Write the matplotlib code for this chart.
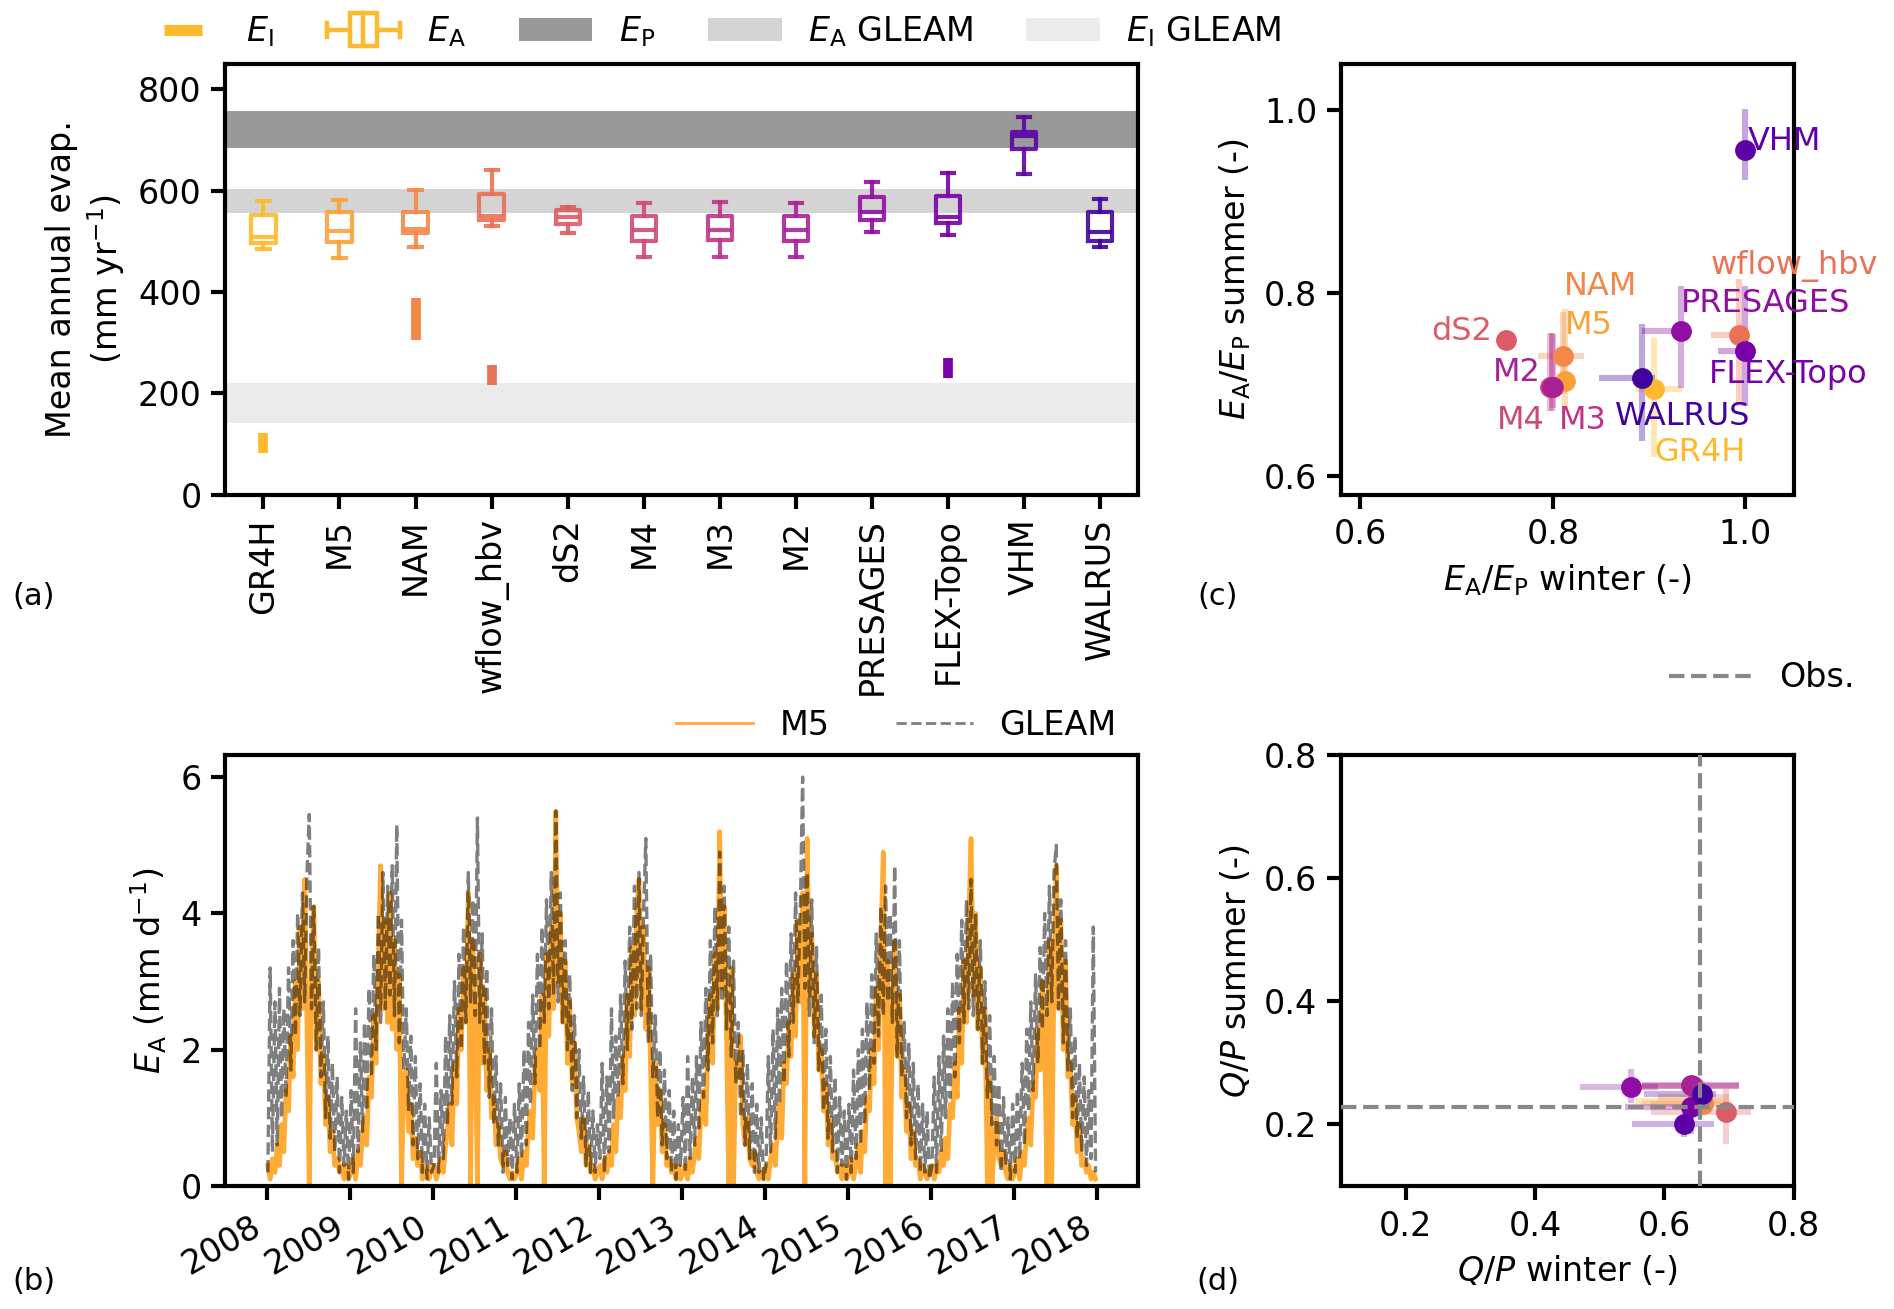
import datetime as dt
import numpy as np
import matplotlib
matplotlib.use('Agg')
import matplotlib.pyplot as plt
import matplotlib.dates as mdates
from matplotlib.lines import Line2D
from matplotlib.patches import Patch, Rectangle
from matplotlib.legend_handler import HandlerBase

plt.rcParams['font.size'] = 12

# ---- models (same order everywhere)
models = ['GR4H', 'M5', 'NAM', 'wflow_hbv', 'dS2', 'M4', 'M3', 'M2',
          'PRESAGES', 'FLEX-Topo', 'VHM', 'WALRUS']

# ---- (a) mean annual evaporation, boxplot stats (mm/yr)
ea_whislo = [485, 467, 490, 530, 516, 469, 470, 469, 518, 512, 634, 490]
ea_q1 = [497, 498, 517, 543, 534, 500, 502, 501, 542, 536, 682, 500]
ea_med = [508, 520, 524, 551, 549, 522, 522, 522, 558, 548, 708, 518]
ea_q3 = [553, 559, 558, 594, 563, 550, 551, 550, 588, 590, 716, 559]
ea_whishi = [579, 582, 601, 642, 568, 576, 578, 575, 617, 635, 745, 584]

# interception range, only for models that have it
ei_models = ['GR4H', 'NAM', 'wflow_hbv', 'FLEX-Topo']
ei_low = [83, 305, 216, 230]
ei_high = [122, 388, 256, 270]

ep_band = (685, 758)
ea_gleam_band = (556, 603)
ei_gleam_band = (141, 220)

# ---- (b) daily E_A, read at three days per month (mm/d)
years = list(range(2008, 2018))
days_in_month = [5, 15, 25]
m5_years = [
    [0.3, 0.1, 0.4, 0.2, 0.6, 0.3, 0.9, 0.5, 1.4, 1.1, 2.2, 1.6, 3.0, 2.0, 3.8, 2.6, 4.5, 2.4,
     0.0, 3.2, 4.1, 2.0, 3.0, 1.5, 1.9, 0.9, 1.3, 0.5, 0.8, 0.3, 0.4, 0.2, 0.3, 0.1, 0.3, 0.1],
    [0.2, 0.4, 0.1, 0.5, 0.3, 0.8, 1.0, 0.6, 1.6, 1.3, 2.5, 1.8, 3.3, 4.7, 2.6, 3.9, 2.4, 4.3,
     2.3, 3.6, 2.0, 3.1, 0.0, 1.6, 1.7, 0.8, 1.2, 0.4, 0.7, 0.3, 0.5, 0.1, 0.3, 0.2, 0.1, 0.3],
    [0.3, 0.1, 0.2, 0.4, 0.2, 0.6, 0.8, 1.2, 0.6, 1.8, 1.2, 2.6, 2.0, 3.2, 2.4, 4.3, 0.0, 3.6,
     2.2, 0.0, 3.4, 1.8, 2.9, 1.4, 2.0, 1.0, 1.3, 0.6, 0.9, 0.4, 0.3, 0.5, 0.2, 0.1, 0.2, 0.1],
    [0.2, 0.4, 0.1, 0.5, 0.3, 0.9, 1.1, 0.7, 1.7, 2.0, 1.4, 2.8, 0.0, 3.4, 2.2, 3.8, 2.6, 5.5,
     3.0, 4.0, 2.4, 3.3, 1.8, 2.7, 1.5, 2.1, 1.0, 0.8, 0.5, 1.0, 0.3, 0.6, 0.2, 0.3, 0.1, 0.2],
    [0.3, 0.1, 0.4, 0.2, 0.5, 0.3, 0.9, 0.5, 1.3, 1.0, 1.9, 1.4, 2.8, 1.9, 3.5, 2.5, 4.0, 4.5,
     2.6, 3.8, 2.3, 3.2, 1.7, 0.0, 1.8, 0.9, 1.4, 0.5, 0.9, 0.3, 0.4, 0.2, 0.3, 0.1, 0.3, 0.1],
    [0.2, 0.3, 0.1, 0.4, 0.2, 0.5, 0.7, 0.4, 1.1, 1.4, 0.9, 2.2, 2.8, 1.8, 3.4, 2.6, 5.2, 2.9,
     4.1, 2.2, 0.0, 3.2, 0.0, 1.8, 1.6, 2.2, 0.9, 0.6, 1.0, 0.4, 0.3, 0.5, 0.2, 0.1, 0.2, 0.1],
    [0.3, 0.1, 0.4, 0.6, 0.3, 0.9, 1.2, 0.7, 1.8, 1.5, 2.4, 1.9, 3.1, 2.2, 3.9, 2.7, 4.3, 0.0,
     5.1, 2.8, 3.7, 2.2, 3.1, 1.7, 2.0, 1.1, 1.5, 0.6, 1.0, 0.4, 0.5, 0.2, 0.3, 0.1, 0.3, 0.1],
    [0.2, 0.4, 0.1, 0.3, 0.6, 0.2, 0.8, 0.5, 1.3, 1.1, 2.0, 1.5, 2.9, 2.0, 3.6, 4.9, 0.0, 3.3,
     0.0, 2.4, 3.6, 1.9, 2.8, 1.3, 1.7, 0.8, 1.2, 0.4, 0.8, 0.3, 0.4, 0.1, 0.3, 0.2, 0.1, 0.2],
    [0.3, 0.1, 0.3, 0.2, 0.5, 0.3, 0.7, 0.4, 1.2, 1.0, 1.8, 1.3, 2.6, 1.8, 3.3, 2.4, 3.9, 5.1,
     2.8, 4.0, 2.3, 3.2, 1.8, 2.6, 0.0, 1.6, 0.0, 0.6, 1.0, 0.4, 0.3, 0.5, 0.2, 0.1, 0.3, 0.1],
    [0.2, 0.4, 0.1, 0.5, 0.3, 0.8, 1.0, 0.6, 1.5, 1.3, 2.3, 1.7, 3.0, 2.1, 0.0, 3.6, 0.0, 3.1,
     4.7, 2.6, 3.9, 2.0, 3.3, 1.6, 1.8, 0.9, 1.3, 0.5, 0.9, 0.3, 0.4, 0.2, 0.3, 0.1, 0.2, 0.1],
]
gleam_years = [
    [0.2, 3.2, 0.5, 2.7, 0.6, 2.9, 1.0, 2.6, 1.3, 3.2, 1.7, 3.6, 2.2, 4.0, 2.5, 4.3, 2.7, 4.6,
     5.45, 2.6, 4.1, 2.0, 3.5, 1.6, 2.7, 1.0, 2.2, 0.7, 1.8, 0.5, 1.6, 0.2, 1.3, 0.3, 1.1, 0.1],
    [1.4, 0.2, 2.6, 0.5, 2.1, 0.8, 2.4, 1.1, 2.9, 1.6, 3.4, 2.0, 4.0, 2.4, 4.6, 2.6, 4.4, 2.8,
     4.7, 2.5, 5.3, 2.1, 3.9, 1.7, 2.6, 1.1, 2.2, 0.6, 1.9, 0.4, 1.5, 0.2, 1.2, 0.1, 1.0, 0.2],
    [0.3, 1.8, 0.2, 1.4, 0.4, 2.2, 0.9, 2.5, 1.2, 3.0, 1.6, 3.4, 2.0, 3.8, 2.4, 4.6, 2.7, 4.2,
     2.5, 5.4, 2.4, 3.7, 1.8, 3.2, 1.3, 2.6, 0.9, 1.9, 0.6, 1.5, 0.2, 1.3, 0.3, 1.0, 0.1, 1.2],
    [0.2, 1.5, 0.4, 2.0, 0.6, 2.4, 1.2, 2.8, 1.5, 3.4, 2.0, 3.8, 2.4, 4.2, 2.6, 4.6, 2.8, 5.5,
     2.7, 4.3, 2.4, 3.6, 2.0, 3.1, 1.4, 2.5, 1.0, 2.0, 0.7, 1.6, 0.3, 1.4, 0.2, 1.1, 0.2, 0.9],
    [0.4, 1.8, 0.2, 1.6, 0.5, 2.6, 1.0, 2.2, 1.3, 2.8, 1.5, 3.3, 2.0, 3.8, 2.3, 4.4, 2.6, 4.6,
     2.5, 4.0, 5.1, 2.1, 3.4, 1.6, 2.5, 1.0, 2.0, 0.6, 1.7, 0.4, 1.4, 0.2, 1.1, 0.1, 0.9, 0.3],
    [1.3, 0.2, 1.9, 0.4, 1.6, 0.6, 1.9, 0.8, 2.4, 1.3, 2.9, 1.7, 3.6, 2.1, 4.1, 2.5, 4.9, 2.7,
     4.4, 2.3, 3.8, 1.9, 3.3, 1.5, 2.4, 1.0, 2.0, 0.6, 1.8, 0.4, 1.5, 0.2, 1.2, 0.2, 1.0, 0.1],
    [0.3, 1.9, 0.5, 2.3, 0.7, 2.6, 1.2, 2.9, 1.5, 3.3, 1.9, 3.7, 2.4, 4.3, 2.7, 4.1, 6.0, 2.9,
     4.6, 2.5, 4.2, 2.1, 3.5, 1.7, 2.8, 1.1, 2.3, 0.7, 1.9, 0.5, 1.6, 0.2, 1.3, 0.3, 1.1, 0.1],
    [1.2, 0.2, 1.7, 0.4, 2.0, 0.6, 2.3, 0.9, 2.7, 1.4, 3.1, 1.8, 3.7, 2.2, 4.1, 2.5, 4.4, 2.7,
     4.0, 2.4, 4.7, 1.9, 3.6, 1.6, 2.4, 1.0, 2.1, 0.6, 1.8, 0.4, 1.5, 0.2, 1.2, 0.2, 1.1, 0.1],
    [0.3, 1.6, 0.2, 1.9, 0.5, 2.2, 1.0, 2.6, 1.3, 3.0, 1.6, 3.4, 2.1, 3.9, 2.4, 4.2, 2.6, 4.5,
     2.5, 4.0, 2.3, 3.6, 1.8, 3.0, 1.3, 2.5, 0.9, 1.9, 0.6, 1.5, 0.2, 1.3, 0.3, 1.0, 0.1, 1.2],
    [0.2, 1.4, 0.4, 1.8, 0.6, 2.3, 1.1, 2.7, 1.4, 3.1, 1.8, 3.5, 2.3, 4.0, 2.5, 4.4, 2.7, 4.6,
     5.0, 2.6, 4.2, 2.1, 3.6, 1.7, 2.6, 1.0, 2.2, 0.7, 1.8, 0.5, 1.6, 0.3, 1.4, 0.4, 3.8, 0.2],
]

# ---- (c) E_A/E_P winter vs summer, point and parameter range
c_x = [0.905, 0.813, 0.811, 0.993, 0.751, 0.797, 0.800, 0.799, 0.933, 1.000, 1.000, 0.893]
c_y = [0.696, 0.704, 0.732, 0.754, 0.749, 0.698, 0.698, 0.698, 0.759, 0.737, 0.956, 0.708]
c_xlo = [0.886, 0.800, 0.785, 0.964, 0.751, 0.790, 0.792, 0.792, 0.893, 0.971, 1.000, 0.848]
c_xhi = [0.934, 0.820, 0.832, 1.002, 0.751, 0.802, 0.805, 0.805, 0.935, 1.000, 1.000, 0.906]
c_ylo = [0.621, 0.673, 0.690, 0.677, 0.749, 0.672, 0.675, 0.672, 0.697, 0.677, 0.924, 0.639]
c_yhi = [0.751, 0.783, 0.780, 0.816, 0.749, 0.757, 0.755, 0.757, 0.808, 0.808, 1.001, 0.766]

# ---- (d) Q/P winter vs summer
d_x = [0.655, 0.658, 0.660, 0.658, 0.695, 0.645, 0.645, 0.642, 0.548, 0.641, 0.631, 0.658]
d_y = [0.238, 0.235, 0.233, 0.245, 0.221, 0.262, 0.262, 0.264, 0.261, 0.229, 0.200, 0.250]
d_xlo = [0.555, 0.565, 0.580, 0.590, 0.580, 0.565, 0.565, 0.565, 0.470, 0.540, 0.550, 0.568]
d_xhi = [0.690, 0.700, 0.705, 0.700, 0.734, 0.715, 0.715, 0.715, 0.590, 0.660, 0.677, 0.680]
d_ylo = [0.225, 0.220, 0.215, 0.220, 0.169, 0.250, 0.250, 0.250, 0.235, 0.185, 0.180, 0.235]
d_yhi = [0.250, 0.250, 0.250, 0.270, 0.258, 0.275, 0.275, 0.275, 0.290, 0.252, 0.210, 0.265]
obs_winter = 0.656
obs_summer = 0.229

# ---- label offsets in panel (c), points
label_pos = {
    'GR4H': ((0, -23), 'left'), 'M5': ((0, 20), 'left'), 'NAM': ((0, 25), 'left'),
    'wflow_hbv': ((-10, 25), 'left'), 'dS2': ((-5, 3), 'right'), 'M4': ((-2, -12), 'right'),
    'M3': ((2, -12), 'left'), 'M2': ((-4, 5), 'right'), 'PRESAGES': ((0, 10), 'left'),
    'FLEX-Topo': ((-13, -8.5), 'left'), 'VHM': ((1, 3), 'left'), 'WALRUS': ((-10, -14), 'left'),
}

cmap = plt.get_cmap('plasma')
colors = [cmap(v) for v in np.linspace(0.85, 0.1, len(models))]
col = dict(zip(models, colors))


class BoxIcon(HandlerBase):
    # small horizontal boxplot for the legend
    def create_artists(self, legend, orig_handle, xdescent, ydescent,
                       width, height, fontsize, trans):
        c = orig_handle.get_color()
        x0, y0 = -xdescent, -ydescent
        cy = y0 + height / 2
        lw = 1.6
        arts = [
            Line2D([x0, x0 + width], [cy, cy], color=c, lw=lw),
            Line2D([x0, x0], [cy - height * 0.3, cy + height * 0.3], color=c, lw=lw),
            Line2D([x0 + width] * 2, [cy - height * 0.3, cy + height * 0.3], color=c, lw=lw),
            Rectangle((x0 + width * 0.32, y0 - height * 0.2), width * 0.36, height * 1.4,
                      fc='white', ec=c, lw=lw),
            Line2D([x0 + width * 0.5] * 2, [y0 - height * 0.2, y0 + height * 1.2], color=c, lw=lw),
        ]
        for a in arts:
            a.set_transform(trans)
        return arts


def style_axes(ax):
    for s in ax.spines.values():
        s.set_linewidth(1.5)
    ax.tick_params(width=1.5, length=5)


fig = plt.figure(figsize=(9.47, 6.545), dpi=200)
ax_a = fig.add_axes([0.119, 0.622, 0.482, 0.329])
ax_b = fig.add_axes([0.119, 0.094, 0.482, 0.329])
ax_c = fig.add_axes([0.708, 0.622, 0.239, 0.329])
ax_d = fig.add_axes([0.708, 0.094, 0.239, 0.329])

# ================= (a)
ax_a.axhspan(*ep_band, color='#999999', lw=0, zorder=0)
ax_a.axhspan(*ea_gleam_band, color='#d4d4d4', lw=0, zorder=0)
ax_a.axhspan(*ei_gleam_band, color='#ebebeb', lw=0, zorder=0)
for i, m in enumerate(models):
    st = dict(med=ea_med[i], q1=ea_q1[i], q3=ea_q3[i], whislo=ea_whislo[i],
              whishi=ea_whishi[i], fliers=[], label=m)
    c = col[m]
    lp = dict(color=c, lw=1.5, alpha=0.9)
    ax_a.bxp([st], positions=[i + 1], widths=0.32, showfliers=False,
             boxprops=lp, whiskerprops=lp, capprops=lp, medianprops=lp,
             manage_ticks=False)
ei_pos = [models.index(m) + 1 for m in ei_models]
ax_a.vlines(ei_pos, ei_low, ei_high, colors=[col[m] for m in ei_models], lw=3.5, zorder=3)
ax_a.set_xlim(0.5, 12.5)
ax_a.set_ylim(0, 850)
ax_a.set_xticks(range(1, len(models) + 1))
ax_a.set_xticklabels(models, rotation=90)
ax_a.set_yticks([0, 200, 400, 600, 800])
ax_a.set_ylabel('Mean annual evap.\n(mm yr$^{-1}$)')
style_axes(ax_a)

h_ei = Line2D([], [], color=col['GR4H'], lw=0, marker='_', ms=14, mew=4)
h_ea = Line2D([], [], color=col['GR4H'])
h_ep = Patch(facecolor='#999999')
h_eag = Patch(facecolor='#d4d4d4')
h_eig = Patch(facecolor='#ebebeb')
ax_a.legend([h_ei, h_ea, h_ep, h_eag, h_eig],
            [r'$E_\mathrm{I}$', r'$E_\mathrm{A}$', r'$E_\mathrm{P}$',
             r'$E_\mathrm{A}$ GLEAM', r'$E_\mathrm{I}$ GLEAM'],
            handler_map={h_ea: BoxIcon()}, ncol=5, frameon=False,
            loc='center', bbox_to_anchor=(0.535, 1.075), handlelength=2.2,
            columnspacing=1.6, handletextpad=0.8)

# ================= (b)
dates = [dt.date(y, mo, d) for y in years for mo in range(1, 13) for d in days_in_month]
m5_series = [v for yr in m5_years for v in yr]
gleam_series = [v for yr in gleam_years for v in yr]
ax_b.plot(dates, m5_series, color='#ffa21f', lw=1.7, alpha=0.9, label='M5')
ax_b.plot(dates, gleam_series, color='k', alpha=0.5, lw=1.2, ls='--', label='GLEAM')
ax_b.set_xlim(dt.date(2007, 7, 2), dt.date(2018, 7, 1))
ax_b.set_ylim(0, 6.32)
ax_b.xaxis.set_major_locator(mdates.YearLocator())
ax_b.xaxis.set_major_formatter(mdates.DateFormatter('%Y'))
plt.setp(ax_b.get_xticklabels(), rotation=30, ha='right')
ax_b.set_ylabel(r'$E_\mathrm{A}$ (mm d$^{-1}$)')
style_axes(ax_b)
leg_b = ax_b.legend(ncol=2, frameon=False, loc='center', bbox_to_anchor=(0.735, 1.07),
                    handlelength=2.3, columnspacing=2.0)
for ln in leg_b.get_lines():
    ln.set_linewidth(1.0)

# ================= (c)
for i, m in enumerate(models):
    c = col[m]
    ax_c.errorbar(c_x[i], c_y[i],
                  xerr=[[c_x[i] - c_xlo[i]], [c_xhi[i] - c_x[i]]],
                  yerr=[[c_y[i] - c_ylo[i]], [c_yhi[i] - c_y[i]]],
                  fmt='none', ecolor=c, alpha=0.35, elinewidth=2.2)
for i, m in enumerate(models):
    ax_c.plot(c_x[i], c_y[i], 'o', color=col[m], ms=6.5, zorder=4)
    off, ha = label_pos[m]
    ax_c.annotate(m, (c_x[i], c_y[i]), xytext=off, textcoords='offset points',
                  ha=ha, va='center', color=col[m], fontsize=11.5, zorder=5)
ax_c.set_xlim(0.58, 1.05)
ax_c.set_ylim(0.58, 1.05)
ax_c.set_xticks([0.6, 0.8, 1.0])
ax_c.set_yticks([0.6, 0.8, 1.0])
ax_c.set_xlabel(r'$E_\mathrm{A}/E_\mathrm{P}$ winter (-)')
ax_c.set_ylabel(r'$E_\mathrm{A}/E_\mathrm{P}$ summer (-)')
style_axes(ax_c)

# ================= (d)
for i, m in enumerate(models):
    c = col[m]
    ax_d.errorbar(d_x[i], d_y[i],
                  xerr=[[d_x[i] - d_xlo[i]], [d_xhi[i] - d_x[i]]],
                  yerr=[[d_y[i] - d_ylo[i]], [d_yhi[i] - d_y[i]]],
                  fmt='none', ecolor=c, alpha=0.3, elinewidth=2.2)
for i, m in enumerate(models):
    ax_d.plot(d_x[i], d_y[i], 'o', color=col[m], ms=6.5, zorder=4)
ax_d.axvline(obs_winter, color='#888888', ls='--', lw=1.5, zorder=5, label='Obs.')
ax_d.axhline(obs_summer, color='#888888', ls='--', lw=1.5, zorder=5)
ax_d.set_xlim(0.1, 0.8)
ax_d.set_ylim(0.1, 0.8)
ax_d.set_xticks([0.2, 0.4, 0.6, 0.8])
ax_d.set_yticks([0.2, 0.4, 0.6, 0.8])
ax_d.set_xlabel(r'$Q/P$ winter (-)')
ax_d.set_ylabel(r'$Q/P$ summer (-)')
style_axes(ax_d)
ax_d.legend(frameon=False, loc='center', bbox_to_anchor=(0.93, 1.18), handlelength=2.5)

# panel letters
for lab, x, y in [('(a)', 0.018, 0.544), ('(b)', 0.018, 0.021),
                  ('(c)', 0.643, 0.544), ('(d)', 0.643, 0.021)]:
    fig.text(x, y, lab, ha='center', va='center', fontsize=11)

fig.savefig('out.png', dpi=200)
